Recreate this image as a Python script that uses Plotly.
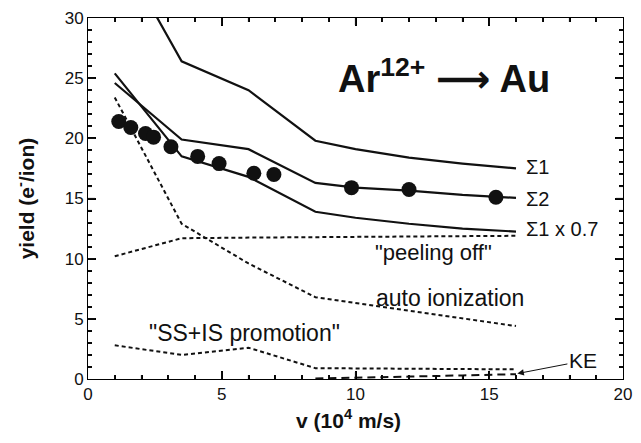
import plotly.graph_objects as go

# velocity grid of the model curves (10^4 m/s)
v_model = [1, 3.5, 6, 8.5, 10, 12, 14, 16]
sigma1 = [36.3, 26.4, 24.0, 19.8, 19.1, 18.4, 17.9, 17.5]
sigma2 = [24.6, 19.9, 19.1, 16.3, 15.9, 15.65, 15.3, 15.05]
sigma1_07 = [25.4, 18.5, 16.8, 13.9, 13.4, 12.9, 12.5, 12.25]

# contributions
v_parts = [1, 3.5, 6, 8.5, 16]
peeling_off = [10.2, 11.7, 11.75, 11.8, 11.9]
auto_ionization = [23.4, 12.9, 9.6, 6.8, 4.4]
ss_is_promotion = [2.8, 2.0, 2.6, 0.9, 0.8]

v_ke = [8.5, 10, 12, 14, 16]
kinetic_emission = [0.05, 0.1, 0.2, 0.3, 0.4]

# measured yields
v_meas = [1.15, 1.6, 2.15, 2.45, 3.1, 4.1, 4.9, 6.2, 6.95, 9.85, 12.0, 15.25]
yield_meas = [21.4, 20.9, 20.4, 20.1, 19.3, 18.5, 17.9, 17.1, 17.0, 15.9, 15.75, 15.1]

# axis extents and tick spacing
x_range = [0, 20]
y_range = [0, 30]
major_step = 5

FONT = "Liberation Sans, Arial, Helvetica, sans-serif"
black = "#111111"

fig = go.Figure()

for ys in (sigma1, sigma2, sigma1_07):
    fig.add_trace(go.Scatter(x=v_model, y=ys, mode="lines",
                             line=dict(color=black, width=2.2)))

for ys in (peeling_off, auto_ionization, ss_is_promotion):
    fig.add_trace(go.Scatter(x=v_parts, y=ys, mode="lines",
                             line=dict(color=black, width=2, dash="4px,3px")))

fig.add_trace(go.Scatter(x=v_ke, y=kinetic_emission, mode="lines",
                         line=dict(color=black, width=2, dash="8px,5px")))

fig.add_trace(go.Scatter(x=v_meas, y=yield_meas, mode="markers",
                         marker=dict(color=black, size=15, line=dict(width=0))))

fig.update_layout(
    width=641, height=443,
    margin=dict(l=88, r=9, t=17, b=64),
    paper_bgcolor="white", plot_bgcolor="white",
    showlegend=False,
    xaxis=dict(range=x_range, dtick=major_step, showline=True, linecolor="black",
               mirror="allticks", ticks="inside", ticklen=8, tickwidth=1.5,
               tickcolor="black", ticklabeloverflow="allow",
               tickfont=dict(family=FONT, size=17, color=black),
               minor=dict(ticks="inside", ticklen=4, tickwidth=1.5,
                          tickcolor="black", dtick=1)),
    yaxis=dict(range=y_range, dtick=major_step, showline=True, linecolor="black",
               mirror="allticks", ticks="inside", ticklen=8, tickwidth=1.5,
               tickcolor="black",
               tickfont=dict(family=FONT, size=17, color=black),
               minor=dict(ticks="inside", ticklen=4, tickwidth=1.5,
                          tickcolor="black", dtick=1)),
)

# inward tick marks on all four sides (unit minor ticks, longer at every 5)
tick_line = dict(color=black, width=1.2)
for v in range(x_range[0] + 1, x_range[1]):
    n = 7 if v % major_step == 0 else 4
    fig.add_shape(type="line", xref="x", yref="paper", ysizemode="pixel",
                  yanchor=0, x0=v, x1=v, y0=0, y1=n, line=tick_line)
    fig.add_shape(type="line", xref="x", yref="paper", ysizemode="pixel",
                  yanchor=1, x0=v, x1=v, y0=0, y1=-n, line=tick_line)
for v in range(y_range[0] + 1, y_range[1]):
    n = 7 if v % major_step == 0 else 4
    fig.add_shape(type="line", xref="paper", yref="y", xsizemode="pixel",
                  xanchor=0, x0=0, x1=n, y0=v, y1=v, line=tick_line)
    fig.add_shape(type="line", xref="paper", yref="y", xsizemode="pixel",
                  xanchor=1, x0=0, x1=-n, y0=v, y1=v, line=tick_line)

labels = [
    (16.3, 17.6, "Σ1"),
    (16.3, 15.0, "Σ2"),
    (16.3, 12.5, "Σ1 x 0.7"),
]
for x, y, t in labels:
    fig.add_annotation(x=x, y=y, text=t, showarrow=False, xanchor="left",
                       font=dict(family=FONT, size=20, color=black))

fig.add_annotation(x=12.9, y=10.5, text='"peeling off"', showarrow=False,
                   font=dict(family=FONT, size=22, color=black))
fig.add_annotation(x=10.7, y=6.7, text="auto ionization", showarrow=False,
                   xanchor="left", font=dict(family=FONT, size=23, color=black))
fig.add_annotation(x=2.2, y=3.85, text='"SS+IS promotion"', showarrow=False,
                   xanchor="left", font=dict(family=FONT, size=23, color=black))
# KE label with arrow pointing at the end of the KE curve
fig.add_annotation(x=v_ke[-1] + 0.05, y=kinetic_emission[-1] + 0.05,
                   ax=18.5, ay=1.5, axref="x", ayref="y",
                   text="KE", showarrow=True,
                   font=dict(family=FONT, size=21, color=black),
                   arrowhead=2, arrowsize=1.3, arrowwidth=1,
                   arrowcolor=black, standoff=0, startstandoff=0)

fig.add_annotation(x=13.3, y=25.1,
                   text="<b>Ar<sup>12+</sup> <span style=\"font-family:DejaVu Sans\">⟶</span> Au</b>",
                   showarrow=False, font=dict(family=FONT, size=38, color=black))

# axis titles
fig.add_annotation(xref="paper", yref="paper", x=-0.118, y=0.5,
                   xanchor="center", yanchor="middle",
                   text="<b>yield (e<sup>-</sup>/ion)</b>", showarrow=False,
                   textangle=-90, font=dict(family=FONT, size=21, color=black))
fig.add_annotation(xref="paper", yref="paper", x=0.487, y=-0.112,
                   xanchor="center", yanchor="middle",
                   text="<b>v (10<sup>4</sup> m/s)</b>", showarrow=False,
                   font=dict(family=FONT, size=21, color=black))

fig.write_html("out.html")
